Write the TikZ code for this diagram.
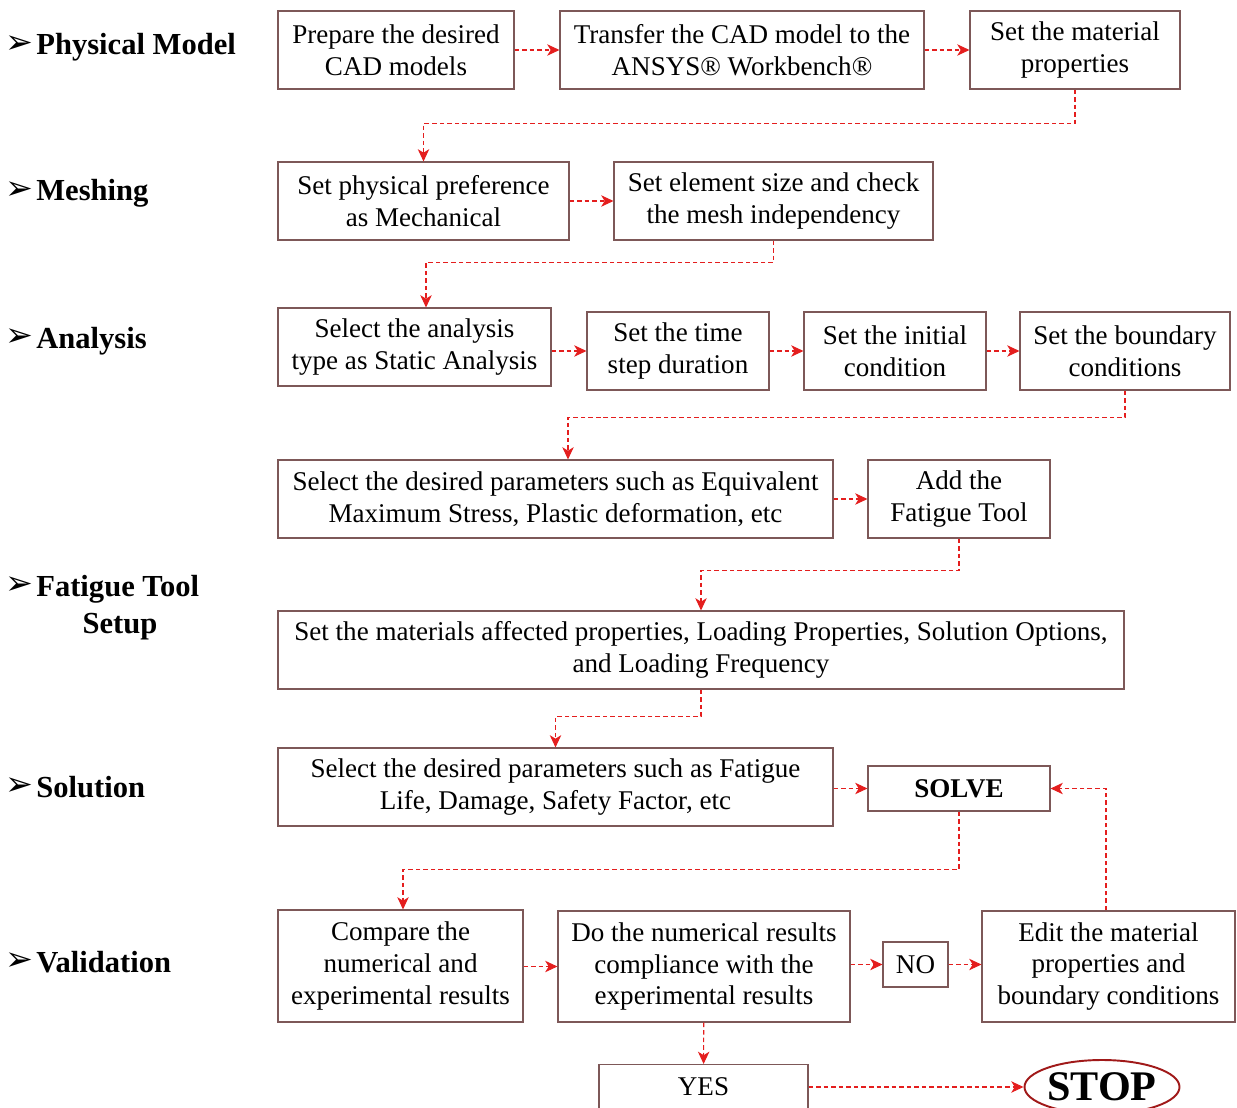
\documentclass[tikz,border=0pt]{standalone}
\usepackage{fontspec}
\setmainfont{Liberation Serif}
\newfontfamily\symfont{DejaVu Sans}
\usetikzlibrary{arrows.meta,positioning,shapes.geometric}
\definecolor{boxline}{RGB}{125,88,88}
\definecolor{flowred}{RGB}{228,30,30}
\definecolor{stopred}{RGB}{160,25,25}

\begin{document}
\begin{tikzpicture}[
    x=0.02cm, y=-0.02cm,
    box/.style={rectangle, draw=boxline, line width=0.6pt, align=center, inner sep=0pt, font=\fontsize{15.4}{18.1}\selectfont},
    sz/.style 2 args={minimum width=#1*0.02cm, minimum height=#2*0.02cm},
    stage/.style={font=\bfseries\fontsize{17.4}{21}\selectfont, anchor=base west, inner sep=0pt, align=center},
    bullet/.style={font=\symfont\fontsize{19}{19}\selectfont, inner sep=0pt},
    arrow/.style={-{Stealth[length=7pt,width=6.5pt,inset=2pt]}, draw=flowred, line width=0.6pt, dash pattern=on 2.6pt off 1.7pt}
]
    \useasboundingbox (0,0) rectangle (1237,1108);

    % stage labels
    \node[bullet] (k1) at (19,45) {➢};
    \node[stage] (s1) at (36,55) {Physical Model};
    \node[bullet] (k2) at (19,191) {➢};
    \node[stage] (s2) at (36,201) {Meshing};
    \node[bullet] (k3) at (19,338) {➢};
    \node[stage] (s3) at (36,348) {Analysis};
    \node[bullet] (k4) at (19,586) {➢};
    \node[stage] (s4) at (36,596) {Fatigue Tool};
    \node[stage, anchor=base] (s4b) at (120,633) {Setup};
    \node[bullet] (k5) at (19,787) {➢};
    \node[stage] (s5) at (36,797) {Solution};
    \node[bullet] (k6) at (19,962) {➢};
    \node[stage] (s6) at (36,972) {Validation};

    % physical model
    \node[box, sz={236}{78}] (cad) at (396,50) {Prepare the desired\\CAD models};
    \node[box, sz={364}{78}] (transfer) at (742,50) {Transfer the CAD model to the\\ANSYS®  Workbench®};
    \node[box, sz={210}{78}] (matprop) at (1075,50) {Set the material\\properties};

    % meshing
    \node[box, sz={291}{78}] (physpref) at (423.5,201) {Set physical preference\\as Mechanical};
    \node[box, sz={319}{78}] (elsize) at (773.5,201) {Set element size and check\\the mesh independency};

    % analysis
    \node[box, sz={273}{78}] (anatype) at (414.5,347) {Select the analysis\\type as Static Analysis};
    \node[box, sz={182}{78}] (tstep) at (678,351) {Set the time\\step duration};
    \node[box, sz={182}{78}] (initcond) at (895,351) {Set the initial\\condition};
    \node[box, sz={210}{78}] (bndcond) at (1125,351) {Set the boundary\\conditions};

    \node[box, sz={555}{78}] (params) at (555.5,499) {Select the desired parameters such as Equivalent\\Maximum Stress, Plastic deformation, etc};
    \node[box, sz={182}{78}] (fattool) at (959,499) {Add the\\Fatigue Tool};

    % fatigue tool setup
    \node[box, sz={846}{78}] (fatset) at (701,650) {Set the materials affected properties, Loading Properties, Solution Options,\\and Loading Frequency};

    % solution
    \node[box, sz={555}{78}] (fatpar) at (555.5,787) {Select the desired parameters such as Fatigue\\Life, Damage, Safety Factor, etc};
    \node[box, sz={182}{45}, font=\bfseries\fontsize{15.4}{18.1}\selectfont] (solve) at (959,788.5) {SOLVE};

    % validation
    \node[box, sz={245}{112}] (compare) at (400.5,966) {Compare the\\numerical and\\experimental results};
    \node[box, sz={292}{111}] (check) at (704,966.5) {Do the numerical results\\compliance with the\\experimental results};
    \node[box, sz={65}{45}] (no) at (915.5,964.5) {NO};
    \node[box, sz={253}{111}] (edit) at (1108.5,966.5) {Edit the material\\properties and\\boundary  conditions};
    \node[box, sz={209}{45}] (yes) at (703.5,1087) {YES};
    \node[ellipse, draw=stopred, line width=1.1pt, inner sep=0pt, sz={155}{54}, font=\bfseries\fontsize{24}{24}\selectfont] (stop) at (1102,1087) {STOP};

    \draw[arrow] (cad) -- (transfer);
    \draw[arrow] (transfer) -- (matprop);
    \draw[arrow] (matprop.south) -- ++(0,34) -| (physpref.north);
    \draw[arrow] (physpref) -- (elsize);
    \draw[arrow] (elsize.south) -- ++(0,22) -| ([xshift=11.5*0.02cm]anatype.north);
    \draw[arrow] (anatype.east |- tstep.west) -- (tstep.west);
    \draw[arrow] (tstep) -- (initcond);
    \draw[arrow] (initcond) -- (bndcond);
    \draw[arrow] (bndcond.south) -- ++(0,27) -| ([xshift=12.5*0.02cm]params.north);
    \draw[arrow] (params) -- (fattool);
    \draw[arrow] (fattool.south) -- ++(0,32) -| (fatset.north);
    \draw[arrow] (fatset.south) -- ++(0,27) -| (fatpar.north);
    \draw[arrow] (fatpar.east |- solve.west) -- (solve.west);
    \draw[arrow] (solve.south) -- ++(0,58) -| ([xshift=2.5*0.02cm]compare.north);
    \draw[arrow] (compare.east |- check.west) -- (check.west);
    \draw[arrow] (check.east |- no.west) -- (no.west);
    \draw[arrow] (no.east) -- (edit.west |- no.east);
    \draw[arrow] ([xshift=-2.5*0.02cm]edit.north) |- (solve.east);
    \draw[arrow] (check) -- (yes);
    \draw[arrow] (yes.east) -- (stop.west);
\end{tikzpicture}
\end{document}
